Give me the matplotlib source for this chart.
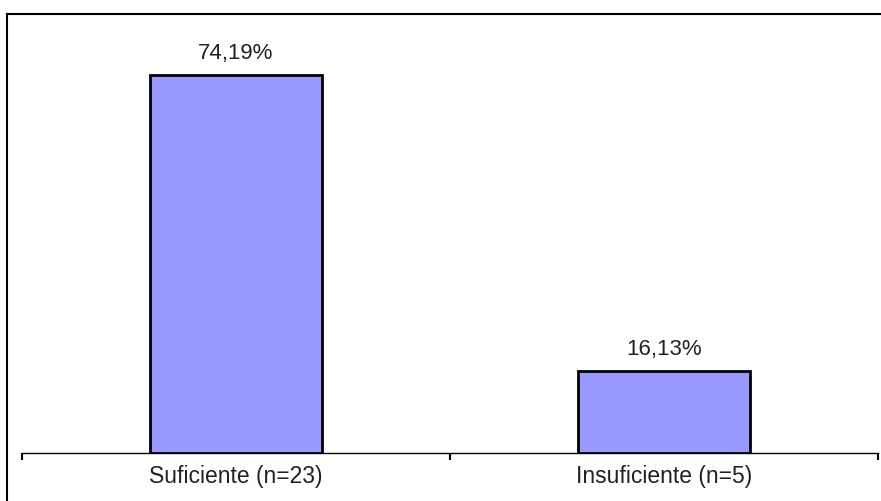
import matplotlib
matplotlib.use("Agg")
import matplotlib.pyplot as plt
from matplotlib.lines import Line2D

categories = ["Suficiente (n=23)", "Insuficiente (n=5)"]
percentages = [74.19, 16.13]
value_labels = ["74,19%", "16,13%"]

plt.rcParams["font.family"] = ["Liberation Sans", "DejaVu Sans"]

W, H = 881, 501
fig = plt.figure(figsize=(W / 100, H / 100), dpi=100)

# Plot area in pixel coordinates
left_px, right_px = 22, 878
base_px, top_px = 453, 45
ax = fig.add_axes([left_px / W, 1 - base_px / H,
                   (right_px - left_px) / W, (base_px - top_px) / H])

x = list(range(len(categories)))
ax.bar(x, percentages, width=0.4, color="#9999FF", edgecolor="black",
       linewidth=2.0, zorder=3)

for xi, v, lab in zip(x, percentages, value_labels):
    ax.annotate(lab, (xi, v), xytext=(0, 8), textcoords="offset points",
                ha="center", va="bottom", fontsize=16, color="#222222")

ax.set_xlim(-0.5, len(categories) - 0.5)
ax.set_ylim(0, 80)

for s in ["top", "right", "left"]:
    ax.spines[s].set_visible(False)
ax.spines["bottom"].set_linewidth(1.0)

ax.set_yticks([])
ax.set_xticks(x)
ax.set_xticklabels(categories, fontsize=16.5, color="#222222")
ax.tick_params(axis="x", which="major", length=0, pad=9)
ax.set_xticks([i - 0.5 for i in range(len(categories) + 1)], minor=True)
ax.tick_params(axis="x", which="minor", length=5, width=1.5, direction="out")

# Frame lines along the top and left edge of the figure
fig.add_artist(Line2D([7 / W, 1.0], [1 - 14 / H, 1 - 14 / H],
                      transform=fig.transFigure, color="black", linewidth=1.5))
fig.add_artist(Line2D([7 / W, 7 / W], [1 - 14 / H, 0.0],
                      transform=fig.transFigure, color="black", linewidth=1.5))

fig.savefig("out.png", dpi=100)
